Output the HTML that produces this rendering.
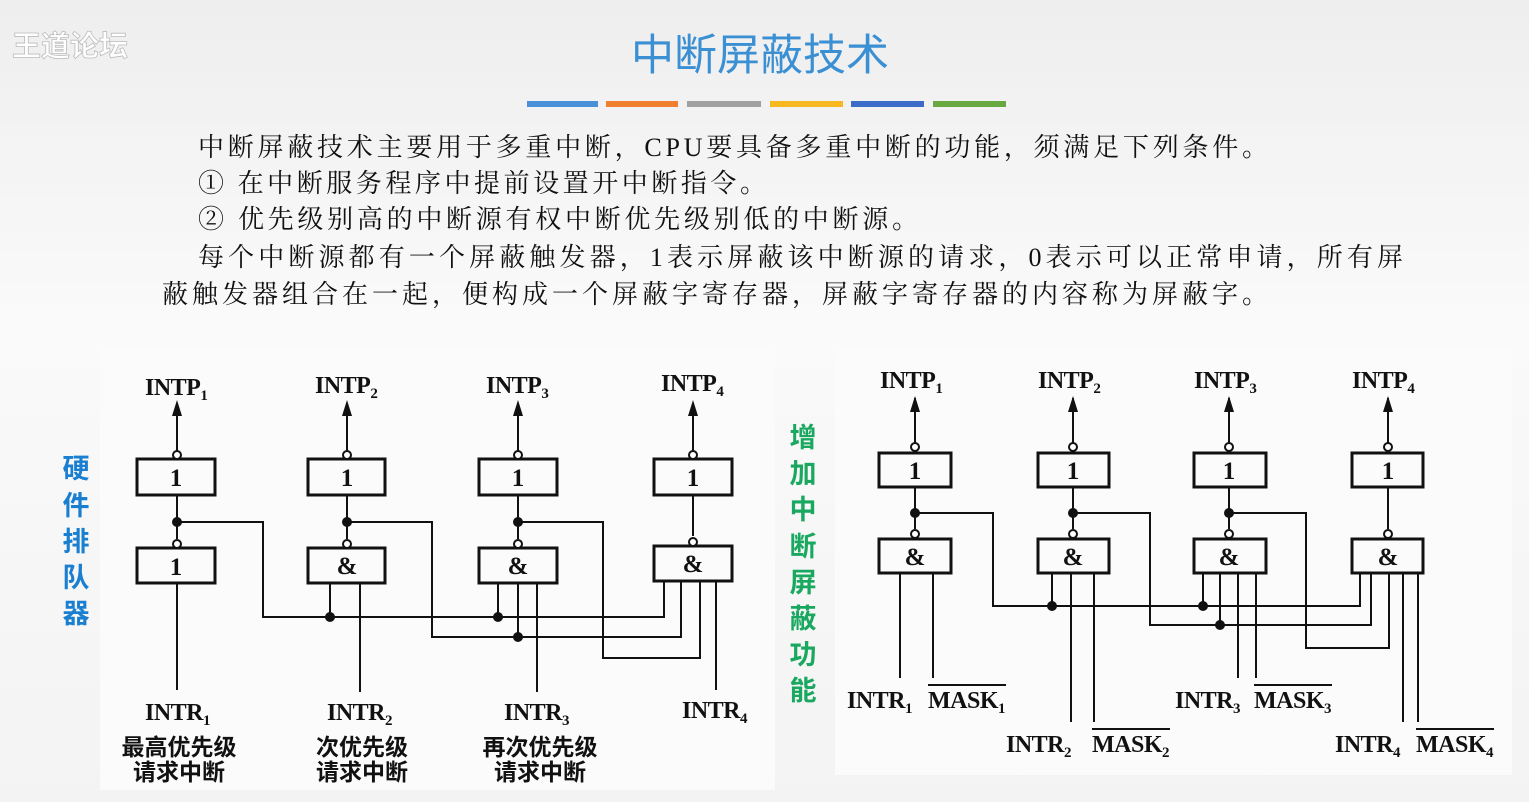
<!DOCTYPE html>
<html><head><meta charset="utf-8"><style>
html,body{margin:0;padding:0;}
body{width:1529px;height:802px;overflow:hidden;background:linear-gradient(#eeeeee,#fafafa 40%,#f3f3f3);}
svg{display:block}
.t{font-family:"Liberation Serif","Noto Serif CJK SC",serif;font-size:26px;fill:#111}
.lb{font-family:"Liberation Serif","Noto Serif CJK SC",serif;font-weight:bold;font-size:24px;fill:#111;letter-spacing:-0.5px}
.sub{font-size:15px}
.cn{font-family:"Liberation Sans","Noto Sans CJK SC",sans-serif;font-weight:bold;font-size:23px;fill:#111}
.g{font-family:"Liberation Serif","Noto Serif CJK SC",serif;font-weight:bold;font-size:25px;fill:#111}
</style></head><body>
<svg width="1529" height="802" xmlns="http://www.w3.org/2000/svg">
<text x="12" y="56" font-family="Liberation Sans,Noto Sans CJK SC,sans-serif" font-weight="bold" font-size="29" fill="#fff" stroke="#bbb" stroke-width="0.8">王道论坛</text>
<text x="760" y="70" text-anchor="middle" font-family="Liberation Sans,Noto Sans CJK SC,sans-serif" font-size="43" fill="#3b8fd3">中断屏蔽技术</text>
<rect x="527" y="101" width="71" height="6" fill="#4a90d9"/>
<rect x="606" y="101" width="72" height="6" fill="#f08030"/>
<rect x="687" y="101" width="74" height="6" fill="#a0a0a0"/>
<rect x="770" y="101" width="73" height="6" fill="#f8b820"/>
<rect x="851" y="101" width="73" height="6" fill="#3a6cc8"/>
<rect x="933" y="101" width="73" height="6" fill="#68a840"/>
<g class="t">
<text x="198" y="156" textLength="1070" lengthAdjust="spacing">中断屏蔽技术主要用于多重中断，CPU要具备多重中断的功能，须满足下列条件。</text>
<text x="198" y="192" textLength="568" lengthAdjust="spacing">① 在中断服务程序中提前设置开中断指令。</text>
<text x="198" y="228" textLength="720" lengthAdjust="spacing">② 优先级别高的中断源有权中断优先级别低的中断源。</text>
<text x="198" y="266" textLength="1205" lengthAdjust="spacing">每个中断源都有一个屏蔽触发器，1表示屏蔽该中断源的请求，0表示可以正常申请，所有屏</text>
<text x="162" y="303" textLength="1106" lengthAdjust="spacing">蔽触发器组合在一起，便构成一个屏蔽字寄存器，屏蔽字寄存器的内容称为屏蔽字。</text>
</g>
<rect x="100" y="350" width="675" height="440" fill="#fbfbfb"/>
<rect x="835" y="350" width="677" height="425" fill="#fbfbfb"/>
<g font-family="Liberation Sans,Noto Sans CJK SC,sans-serif" font-size="27" font-weight="bold" fill="#1a7fd0" text-anchor="middle">
<text x="76" y="478">硬</text><text x="76" y="515">件</text><text x="76" y="551">排</text><text x="76" y="587">队</text><text x="76" y="623">器</text>
</g>
<g font-family="Liberation Sans,Noto Sans CJK SC,sans-serif" font-size="27" font-weight="bold" fill="#1aa860" text-anchor="middle">
<text x="803" y="447">增</text><text x="803" y="483">加</text><text x="803" y="519">中</text><text x="803" y="556">断</text><text x="803" y="592">屏</text><text x="803" y="628">蔽</text><text x="803" y="664">功</text><text x="803" y="700">能</text>
</g>

<!-- LEFT DIAGRAM -->
<g stroke="#111" stroke-width="2" fill="none">
<line x1="177" y1="403" x2="177" y2="451"/><line x1="347" y1="403" x2="347" y2="451"/><line x1="518" y1="403" x2="518" y2="451"/><line x1="693" y1="403" x2="693" y2="451"/>
<line x1="177" y1="495" x2="177" y2="539"/><line x1="347" y1="495" x2="347" y2="539"/><line x1="518" y1="495" x2="518" y2="539"/><line x1="693" y1="495" x2="693" y2="536"/>
<rect x="137" y="459" width="78" height="36" stroke-width="3"/><rect x="308" y="459" width="77" height="36" stroke-width="3"/><rect x="479" y="459" width="78" height="36" stroke-width="3"/><rect x="654" y="459" width="78" height="36" stroke-width="3"/>
<rect x="137" y="548" width="78" height="35" stroke-width="3"/><rect x="308" y="548" width="77" height="35" stroke-width="3"/><rect x="479" y="548" width="78" height="35" stroke-width="3"/><rect x="654" y="546" width="78" height="35" stroke-width="3"/>
<circle cx="177" cy="455" r="4" fill="#fff"/><circle cx="347" cy="455" r="4" fill="#fff"/><circle cx="518" cy="455" r="4" fill="#fff"/><circle cx="693" cy="455" r="4" fill="#fff"/>
<circle cx="177" cy="544" r="4" fill="#fff"/><circle cx="347" cy="544" r="4" fill="#fff"/><circle cx="518" cy="544" r="4" fill="#fff"/><circle cx="693" cy="542" r="4" fill="#fff"/>
<polyline points="177,522 263,522 263,617 664,617 664,581"/>
<polyline points="347,522 432,522 432,637 681,637 681,581"/>
<polyline points="518,522 603,522 603,658 700,658 700,581"/>
<line x1="330" y1="583" x2="330" y2="617"/><line x1="498" y1="583" x2="498" y2="617"/><line x1="518" y1="583" x2="518" y2="637"/>
<line x1="177" y1="583" x2="177" y2="690"/><line x1="360" y1="583" x2="360" y2="692"/><line x1="537" y1="583" x2="537" y2="692"/><line x1="716" y1="581" x2="716" y2="690"/>
</g>
<g fill="#111">
<polygon points="177,400 172,416 182,416"/><polygon points="347,400 342,416 352,416"/><polygon points="518,400 513,416 523,416"/><polygon points="693,400 688,416 698,416"/>
<circle cx="177" cy="522" r="5"/><circle cx="347" cy="522" r="5"/><circle cx="518" cy="522" r="5"/>
<circle cx="330" cy="617" r="5"/><circle cx="498" cy="617" r="5"/><circle cx="518" cy="637" r="5"/>
</g>
<g class="g" text-anchor="middle">
<text x="176" y="486">1</text><text x="347" y="486">1</text><text x="518" y="486">1</text><text x="693" y="486">1</text>
<text x="176" y="575">1</text><text x="347" y="574">&amp;</text><text x="518" y="574">&amp;</text><text x="693" y="572">&amp;</text>
</g>
<g class="lb">
<text x="145" y="395">INTP<tspan class="sub" dy="5">1</tspan></text>
<text x="315" y="393">INTP<tspan class="sub" dy="5">2</tspan></text>
<text x="486" y="393">INTP<tspan class="sub" dy="5">3</tspan></text>
<text x="661" y="391">INTP<tspan class="sub" dy="5">4</tspan></text>
<text x="145" y="720">INTR<tspan class="sub" dy="5">1</tspan></text>
<text x="327" y="720">INTR<tspan class="sub" dy="5">2</tspan></text>
<text x="504" y="720">INTR<tspan class="sub" dy="5">3</tspan></text>
<text x="682" y="718">INTR<tspan class="sub" dy="5">4</tspan></text>
</g>
<g class="cn" text-anchor="middle">
<text x="179" y="755">最高优先级</text><text x="179" y="780">请求中断</text>
<text x="362" y="755">次优先级</text><text x="362" y="780">请求中断</text>
<text x="540" y="755">再次优先级</text><text x="540" y="780">请求中断</text>
</g>

<!-- RIGHT DIAGRAM -->
<g stroke="#111" stroke-width="2" fill="none">
<line x1="915" y1="398" x2="915" y2="443"/><line x1="1073" y1="398" x2="1073" y2="443"/><line x1="1229" y1="398" x2="1229" y2="443"/><line x1="1388" y1="398" x2="1388" y2="443"/>
<line x1="915" y1="487" x2="915" y2="529"/><line x1="1073" y1="487" x2="1073" y2="529"/><line x1="1229" y1="487" x2="1229" y2="529"/><line x1="1388" y1="487" x2="1388" y2="529"/>
<rect x="879" y="453" width="72" height="34" stroke-width="3"/><rect x="1038" y="453" width="71" height="34" stroke-width="3"/><rect x="1194" y="453" width="72" height="34" stroke-width="3"/><rect x="1352" y="453" width="71" height="34" stroke-width="3"/>
<rect x="879" y="539" width="72" height="34" stroke-width="3"/><rect x="1038" y="539" width="71" height="34" stroke-width="3"/><rect x="1194" y="539" width="72" height="34" stroke-width="3"/><rect x="1352" y="539" width="71" height="34" stroke-width="3"/>
<circle cx="915" cy="447" r="4" fill="#fff"/><circle cx="1073" cy="447" r="4" fill="#fff"/><circle cx="1229" cy="447" r="4" fill="#fff"/><circle cx="1388" cy="447" r="4" fill="#fff"/>
<circle cx="915" cy="534" r="4" fill="#fff"/><circle cx="1073" cy="534" r="4" fill="#fff"/><circle cx="1229" cy="534" r="4" fill="#fff"/><circle cx="1388" cy="534" r="4" fill="#fff"/>
<polyline points="915,513 993,513 993,606 1360,606 1360,573"/>
<polyline points="1073,513 1150,513 1150,625 1371,625 1371,573"/>
<polyline points="1229,513 1306,513 1306,648 1389,648 1389,573"/>
<line x1="1052" y1="573" x2="1052" y2="606"/><line x1="1203" y1="573" x2="1203" y2="606"/><line x1="1220" y1="573" x2="1220" y2="625"/>
<line x1="900" y1="573" x2="900" y2="678"/><line x1="933" y1="573" x2="933" y2="678"/>
<line x1="1071" y1="573" x2="1071" y2="722"/><line x1="1094" y1="573" x2="1094" y2="722"/>
<line x1="1238" y1="573" x2="1238" y2="678"/><line x1="1256" y1="573" x2="1256" y2="678"/>
<line x1="1403" y1="573" x2="1403" y2="722"/><line x1="1418" y1="573" x2="1418" y2="722"/>
</g>
<g fill="#111">
<polygon points="915,396 910,412 920,412"/><polygon points="1073,396 1068,412 1078,412"/><polygon points="1229,396 1224,412 1234,412"/><polygon points="1388,396 1383,412 1393,412"/>
<circle cx="915" cy="513" r="5"/><circle cx="1073" cy="513" r="5"/><circle cx="1229" cy="513" r="5"/>
<circle cx="1052" cy="606" r="5"/><circle cx="1203" cy="606" r="5"/><circle cx="1220" cy="625" r="5"/>
</g>
<g class="g" text-anchor="middle">
<text x="915" y="479">1</text><text x="1073" y="479">1</text><text x="1229" y="479">1</text><text x="1388" y="479">1</text>
<text x="915" y="565">&amp;</text><text x="1073" y="565">&amp;</text><text x="1229" y="565">&amp;</text><text x="1388" y="565">&amp;</text>
</g>
<g class="lb">
<text x="880" y="388">INTP<tspan class="sub" dy="5">1</tspan></text>
<text x="1038" y="388">INTP<tspan class="sub" dy="5">2</tspan></text>
<text x="1194" y="388">INTP<tspan class="sub" dy="5">3</tspan></text>
<text x="1352" y="388">INTP<tspan class="sub" dy="5">4</tspan></text>
<text x="847" y="708">INTR<tspan class="sub" dy="5">1</tspan></text><text x="928" y="708">MASK<tspan class="sub" dy="5">1</tspan></text>
<text x="1006" y="752">INTR<tspan class="sub" dy="5">2</tspan></text><text x="1092" y="752">MASK<tspan class="sub" dy="5">2</tspan></text>
<text x="1175" y="708">INTR<tspan class="sub" dy="5">3</tspan></text><text x="1254" y="708">MASK<tspan class="sub" dy="5">3</tspan></text>
<text x="1335" y="752">INTR<tspan class="sub" dy="5">4</tspan></text><text x="1416" y="752">MASK<tspan class="sub" dy="5">4</tspan></text>
</g>
<g stroke="#111" stroke-width="2">
<line x1="928" y1="685" x2="1006" y2="685"/>
<line x1="1092" y1="729" x2="1170" y2="729"/>
<line x1="1254" y1="685" x2="1332" y2="685"/>
<line x1="1416" y1="729" x2="1494" y2="729"/>
</g>
</svg>
</body></html>
